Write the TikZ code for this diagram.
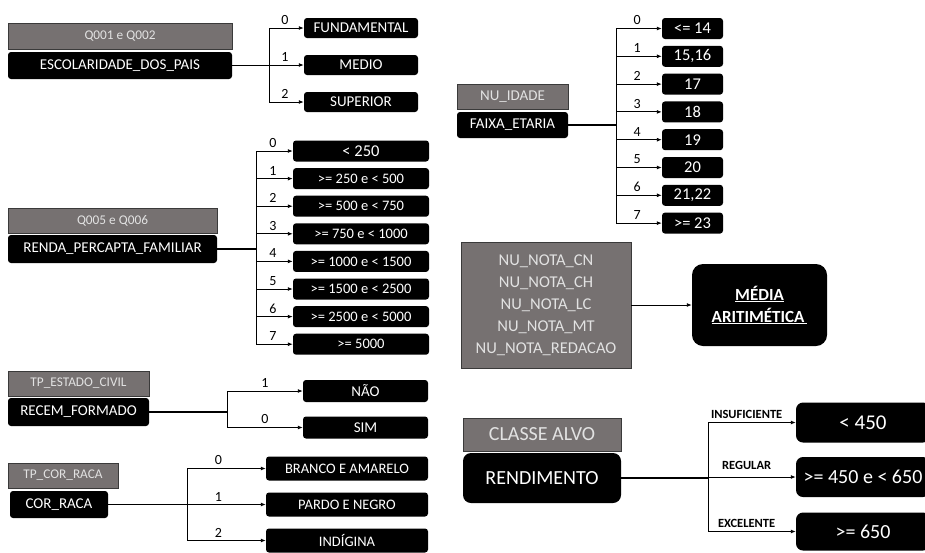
\documentclass[tikz,border=0pt]{standalone}
\usepackage{fontspec}
\setmainfont{Carlito}
\usetikzlibrary{positioning,arrows.meta}
\definecolor{cinza}{HTML}{767171}
\definecolor{cinzaborda}{HTML}{3A3A3A}
\definecolor{cinzatexto}{HTML}{E2E2E2}
\tikzset{
  orig/.style={draw=cinzaborda, fill=cinza, text=cinzatexto, inner sep=0pt, line width=0.8pt,
    font=\fontsize{13.3}{16}\selectfont},
  var/.style={fill=black, text=white, rounded corners=3pt, inner sep=0pt,
    font=\fontsize{15}{18}\selectfont},
  cat/.style={fill=black, text=white, rounded corners=3pt, inner sep=0pt,
    font=\fontsize{14.5}{17}\selectfont},
  num/.style={above, inner sep=3pt, font=\fontsize{14}{16}\selectfont},
  classe/.style={above, inner sep=3pt, font=\fontsize{12.5}{15}\bfseries\selectfont},
  ramo/.style={-{Latex[length=5pt,width=4pt]}, line width=0.9pt},
  tronco/.style={line width=1.1pt},
}

\begin{document}
\begin{tikzpicture}[x=1pt, y=-1pt, on grid]
  \useasboundingbox (0,0) rectangle (925,552);

  % escolaridade dos pais
  \node[orig, minimum width=224pt, minimum height=26pt] (q12) at (120,36) {Q001 e Q002};
  \node[var, minimum width=224pt, minimum height=27pt] (esc) at (120,65.5) {ESCOLARIDADE\_DOS\_PAIS};
  \node[cat, minimum width=114pt, minimum height=20pt, font=\fontsize{15}{18}\selectfont] (fund) at (361,28) {FUNDAMENTAL};
  \node[cat, minimum width=114pt, minimum height=20pt, font=\fontsize{15}{18}\selectfont, below=37pt of fund] (medio) {MEDIO};
  \node[cat, minimum width=114pt, minimum height=20pt, font=\fontsize{15}{18}\selectfont, below=37pt of medio] (sup) {SUPERIOR};
  \coordinate (esc-b) at (269,65.5);
  \draw[tronco] (esc) -- (esc-b);
  \draw[ramo] (esc-b) |- node[num, pos=.73] {0} (fund);
  \draw[ramo] (esc-b) |- node[num, pos=.73] {1} (medio);
  \draw[ramo] (esc-b) |- node[num, pos=.73] {2} (sup);

  % renda per capita
  \node[orig, minimum width=209pt, minimum height=25pt] (q56) at (112.5,220.5) {Q005 e Q006};
  \node[var, minimum width=209pt, minimum height=28pt] (renda) at (112.5,249) {RENDA\_PERCAPTA\_FAMILIAR};
  \node[cat, minimum width=136pt, minimum height=21pt, font=\fontsize{16.5}{19}\selectfont] (r0) at (361,151) {< 250};
  \node[cat, minimum width=136pt, minimum height=21pt, below=27.6pt of r0] (r1) {>= 250 e < 500};
  \node[cat, minimum width=136pt, minimum height=21pt, below=27.6pt of r1] (r2) {>= 500 e < 750};
  \node[cat, minimum width=136pt, minimum height=21pt, below=27.6pt of r2] (r3) {>= 750 e < 1000};
  \node[cat, minimum width=136pt, minimum height=21pt, below=27.6pt of r3] (r4) {>= 1000 e < 1500};
  \node[cat, minimum width=136pt, minimum height=21pt, below=27.6pt of r4] (r5) {>= 1500 e < 2500};
  \node[cat, minimum width=136pt, minimum height=21pt, below=27.6pt of r5] (r6) {>= 2500 e < 5000};
  \node[cat, minimum width=136pt, minimum height=21pt, below=27.6pt of r6] (r7) {>= 5000};
  \coordinate (renda-b) at (256,249);
  \draw[tronco] (renda) -- (renda-b);
  \draw[ramo] (renda-b) |- node[num, pos=.73] {0} (r0);
  \draw[ramo] (renda-b) |- node[num, pos=.73] {1} (r1);
  \draw[ramo] (renda-b) |- node[num, pos=.73] {2} (r2);
  \draw[ramo] (renda-b) |- node[num, pos=.73] {3} (r3);
  \draw[ramo] (renda-b) |- node[num, pos=.73] {4} (r4);
  \draw[ramo] (renda-b) |- node[num, pos=.73] {5} (r5);
  \draw[ramo] (renda-b) |- node[num, pos=.73] {6} (r6);
  \draw[ramo] (renda-b) |- node[num, pos=.73] {7} (r7);

  % recem formado
  \node[orig, minimum width=141pt, minimum height=25pt] (civil) at (78.5,383.5) {TP\_ESTADO\_CIVIL};
  \node[var, minimum width=141pt, minimum height=28pt] (recem) at (78.5,412) {RECEM\_FORMADO};
  \node[cat, minimum width=125pt, minimum height=22pt, font=\fontsize{15}{18}\selectfont] (nao) at (365.5,391) {NÃO};
  \node[cat, minimum width=125pt, minimum height=22pt, font=\fontsize{15}{18}\selectfont] (sim) at (365.5,427.5) {SIM};
  \coordinate (recem-b) at (227,412);
  \draw[tronco] (recem) -- (recem-b);
  \draw[ramo] (recem-b) |- node[num, pos=.75] {1} (nao);
  \draw[ramo] (recem-b) |- node[num, pos=.75] {0} (sim);

  % cor raca
  \node[orig, minimum width=110pt, minimum height=25pt] (tpcor) at (63,475.5) {TP\_COR\_RACA};
  \node[var, minimum width=98pt, minimum height=27pt] (cor) at (59,504.5) {COR\_RACA};
  \node[cat, minimum width=162pt, minimum height=24pt] (branco) at (347,468.5) {BRANCO E AMARELO};
  \node[cat, minimum width=162pt, minimum height=24pt, below=36pt of branco] (pardo) {PARDO E NEGRO};
  \node[cat, minimum width=162pt, minimum height=24pt, below=36pt of pardo] (indig) {INDÍGINA};
  \coordinate (cor-b) at (187,504.5);
  \draw[tronco] (cor) -- (cor-b);
  \draw[ramo] (cor-b) |- node[num, pos=.7] {0} (branco);
  \draw[ramo] (cor-b) |- node[num, pos=.7] {1} (pardo);
  \draw[ramo] (cor-b) |- node[num, pos=.7] {2} (indig);

  % faixa etaria
  \node[orig, minimum width=111pt, minimum height=25pt, font=\fontsize{15}{18}\selectfont] (idade) at (512.5,96.5) {NU\_IDADE};
  \node[var, minimum width=111pt, minimum height=26pt] (faixa) at (512.5,125) {FAIXA\_ETARIA};
  \node[cat, minimum width=61pt, minimum height=21pt, font=\fontsize{16.5}{19}\selectfont] (f0) at (692.5,28.5) {<= 14};
  \node[cat, minimum width=61pt, minimum height=21pt, font=\fontsize{16.5}{19}\selectfont, below=27.8pt of f0] (f1) {15,16};
  \node[cat, minimum width=61pt, minimum height=21pt, font=\fontsize{16.5}{19}\selectfont, below=27.8pt of f1] (f2) {17};
  \node[cat, minimum width=61pt, minimum height=21pt, font=\fontsize{16.5}{19}\selectfont, below=27.8pt of f2] (f3) {18};
  \node[cat, minimum width=61pt, minimum height=21pt, font=\fontsize{16.5}{19}\selectfont, below=27.8pt of f3] (f4) {19};
  \node[cat, minimum width=61pt, minimum height=21pt, font=\fontsize{16.5}{19}\selectfont, below=27.8pt of f4] (f5) {20};
  \node[cat, minimum width=61pt, minimum height=21pt, font=\fontsize{16.5}{19}\selectfont, below=27.8pt of f5] (f6) {21,22};
  \node[cat, minimum width=61pt, minimum height=21pt, font=\fontsize{16.5}{19}\selectfont, below=27.8pt of f6] (f7) {>= 23};
  \coordinate (faixa-b) at (616,125);
  \draw[tronco] (faixa) -- (faixa-b);
  \draw[ramo] (faixa-b) |- node[num, pos=.73] {0} (f0);
  \draw[ramo] (faixa-b) |- node[num, pos=.73] {1} (f1);
  \draw[ramo] (faixa-b) |- node[num, pos=.73] {2} (f2);
  \draw[ramo] (faixa-b) |- node[num, pos=.73] {3} (f3);
  \draw[ramo] (faixa-b) |- node[num, pos=.73] {4} (f4);
  \draw[ramo] (faixa-b) |- node[num, pos=.73] {5} (f5);
  \draw[ramo] (faixa-b) |- node[num, pos=.73] {6} (f6);
  \draw[ramo] (faixa-b) |- node[num, pos=.73] {7} (f7);

  % notas
  \node[orig, minimum width=170pt, minimum height=126pt, align=center, font=\fontsize{16.5}{22}\selectfont] (notas) at (546,305)
    {NU\_NOTA\_CN\\NU\_NOTA\_CH\\NU\_NOTA\_LC\\NU\_NOTA\_MT\\NU\_NOTA\_REDACAO};
  \node[var, minimum width=135pt, minimum height=82pt, rounded corners=11pt, align=center, font=\fontsize{17}{22}\bfseries\selectfont] (media) at (759.5,305)
    {\underline{MÉDIA}\\\underline{ARITIMÉTICA\,}};
  \draw[ramo] (notas) -- (media);

  % classe alvo
  \node[orig, minimum width=158pt, minimum height=33pt, font=\fontsize{20}{24}\selectfont] (alvo) at (542,434.5) {CLASSE ALVO};
  \node[var, minimum width=158pt, minimum height=50pt, rounded corners=8pt, font=\fontsize{20}{24}\selectfont] (rend) at (542,478) {RENDIMENTO};
  \node[cat, minimum width=134pt, minimum height=40pt, rounded corners=7pt, font=\fontsize{21}{24}\selectfont] (insuf) at (863,422.5) {< 450};
  \node[cat, minimum width=134pt, minimum height=40pt, rounded corners=7pt, font=\fontsize{20}{24}\selectfont] (regular) at (863,477) {>= 450 e < 650};
  \node[cat, minimum width=134pt, minimum height=38pt, rounded corners=7pt, font=\fontsize{20}{24}\selectfont] (exc) at (863,531.5) {>= 650};
  \coordinate (rend-b) at (708,478);
  \draw[line width=1.8pt] (rend) -- (rend-b);
  \draw[ramo] (rend-b) |- node[classe, pos=.72] {INSUFICIENTE} (insuf);
  \draw[ramo] (rend-b) |- node[classe, pos=.72, inner sep=7pt] {REGULAR} (regular);
  \draw[ramo] (rend-b) |- node[classe, pos=.72] {EXCELENTE} (exc);
\end{tikzpicture}
\end{document}
